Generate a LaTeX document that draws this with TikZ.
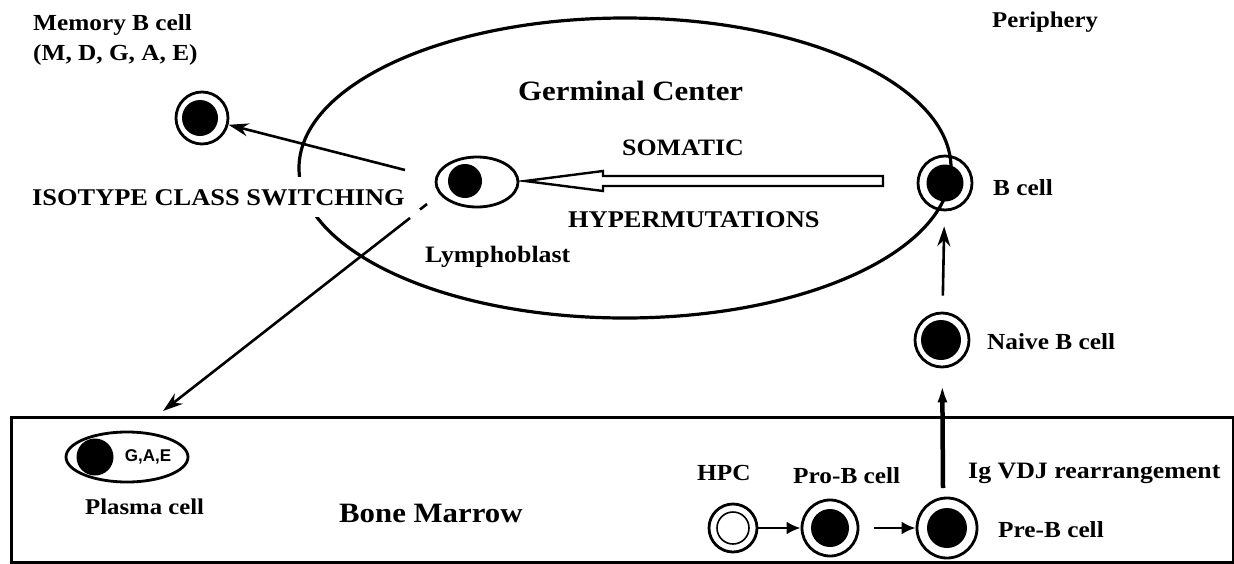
\documentclass[tikz,border=0pt]{standalone}
\usepackage{fontspec}
\setmainfont{Liberation Serif}[FakeStretch=1.1]
\newfontfamily\gaesans{Liberation Sans}
\usetikzlibrary{arrows.meta,shapes.geometric}
\begin{document}
\begin{tikzpicture}[x=1pt,y=-1pt,
  lbl/.style={font=\bfseries\fontsize{#1}{#1}\selectfont, inner sep=0pt, anchor=base west},
  lbl/.default=23,
  ring/.style={circle, draw, line width=2.8pt, fill=white, inner sep=0pt, minimum size=#1},
  nuc/.style={fill=black},
  arr/.style={line width=2.6pt, -{Stealth[length=20pt,width=13pt]}},
  tri/.style={line width=2.6pt, -{Latex[length=14pt,width=13pt]}},
  bigarr/.style={line width=4.5pt, -{Latex[length=18pt,width=10pt]}}]
\useasboundingbox (0,0) rectangle (1234,563);
\fill[white] (0,0) rectangle (1234,563);

% bone marrow box
\node[draw, line width=3pt, inner sep=0pt, minimum width=1222pt, minimum height=145pt, anchor=north west] (marrow) at (10,416) {};

% cells
\node[ring=52pt] (mem) at (202,118) {};
\fill[nuc] (200,118) circle [radius=18pt];

\node[ellipse, draw, line width=2.8pt, fill=white, inner sep=0pt, minimum width=82pt, minimum height=50pt] (lymph) at (477,182) {};
\fill[nuc] (465,181) circle [radius=17pt];

\node[ring=54pt] (bcell) at (945,183) {};
\fill[nuc] (945,183) circle [radius=18.5pt];

\node[ring=54pt] (naive) at (942,340) {};
\fill[nuc] (941,340) circle [radius=20pt];

\node[ellipse, draw, line width=2.8pt, fill=white, inner sep=0pt, minimum width=122pt, minimum height=50pt] (plasma) at (127,457) {};
\fill[nuc] (95,457) circle [radius=18.5pt];
\node[font=\gaesans\bfseries\fontsize{17}{17}\selectfont, inner sep=0pt] (gae) at (148,457) {G,A,E};

\node[ring=48pt] (hpc) at (733,528) {};
\draw[line width=1.6pt] (733,528) circle [radius=16pt];

\node[ring=56pt] (pro) at (830,528) {};
\fill[nuc] (830,528) circle [radius=19pt];

\node[ring=60pt] (pre) at (947,528) {};
\fill[nuc] (947,528) circle [radius=20pt];

% germinal center
\draw[line width=3.2pt] (625,168) ellipse [x radius=326pt, y radius=150pt];

% labels
\node[lbl] (memlbl) at (33,30) {Memory B cell};
\node[lbl] (memsub) at (33,60) {(M, D, G, A, E)};
\node[lbl=24, fill=white, inner xsep=2pt, inner ysep=12pt] (iso) at (30,205) {ISOTYPE CLASS SWITCHING};
\node[lbl=28] (gc) at (518,100) {Germinal Center};
\node[lbl=23.5] (som) at (622,155) {SOMATIC};
\node[lbl=24] (hyp) at (568,227) {HYPERMUTATIONS};
\node[lbl=23.5] (lymlbl) at (425,262) {Lymphoblast};
\node[lbl] (bcl) at (993,195) {B cell};
\node[lbl] (nbl) at (987,349) {Naive B cell};
\node[lbl=22.5] (per) at (992,27) {Periphery};
\node[lbl=23.5] (vdj) at (968,478) {Ig VDJ rearrangement};
\node[lbl] (hpcl) at (697,480) {HPC};
\node[lbl] (prol) at (793,483) {Pro-B cell};
\node[lbl] (prel) at (998,537) {Pre-B cell};
\node[lbl=22.5] (pll) at (85,514) {Plasma cell};
\node[lbl=28] (bml) at (339,522) {Bone Marrow};

% connectors
\coordinate (memtail) at (405,170);
\draw[arr] (memtail) -- (mem);

\coordinate (pltail) at (410,218);
\coordinate (pltip) at (163,411);
\draw[arr] (pltail) -- (pltip);
\coordinate (d1) at (420,209.5);
\coordinate (d2) at (427,204);
\draw[line width=2.6pt] (d1) -- (d2);

\draw[arr, shorten <=16pt, shorten >=15pt] (naive) -- (bcell);

\draw[tri] (hpc) -- (pro);
\draw[tri, shorten <=15pt] (pro) -- (pre);

\coordinate (vdjtail) at (943,488);
\draw[bigarr, shorten >=16pt] (vdjtail) -- (naive);

% hollow arrow (somatic hypermutation)
\coordinate (ha1) at (883,176);
\coordinate (ha2) at (603,176);
\coordinate (ha3) at (603,171);
\coordinate (hatip) at (525,181);
\coordinate (ha4) at (603,191);
\coordinate (ha5) at (603,186);
\coordinate (ha6) at (883,186);
\draw[line width=2.4pt, line join=miter] (ha1) -- (ha2) -- (ha3) -- (hatip) -- (ha4) -- (ha5) -- (ha6) -- cycle;
\end{tikzpicture}
\end{document}
